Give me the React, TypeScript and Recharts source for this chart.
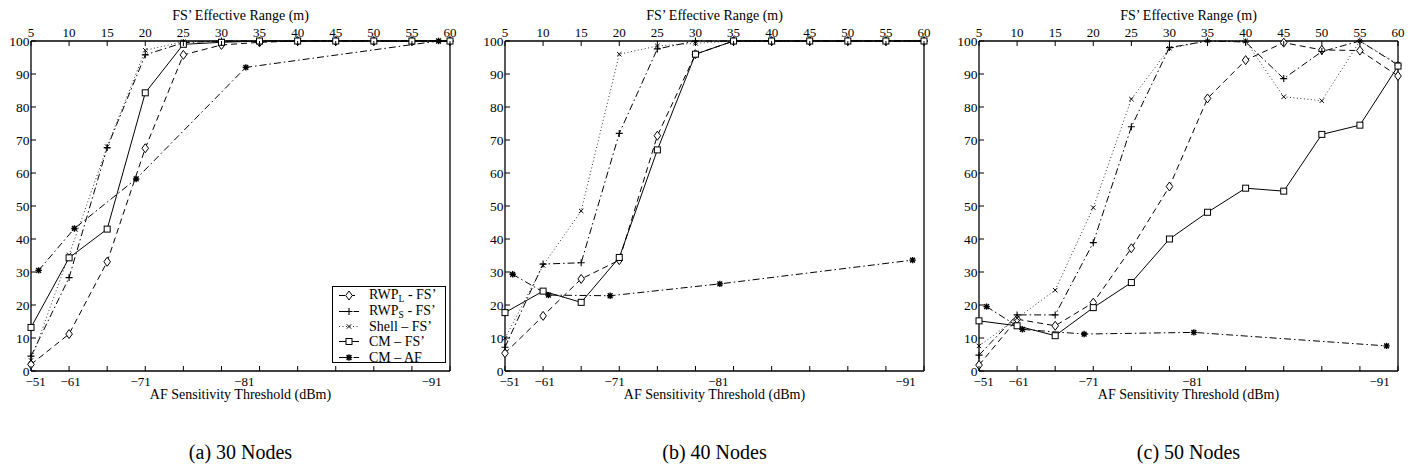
import React from 'react';
import { LineChart, Line, XAxis, YAxis, Legend } from 'recharts';

const FONT = '"Liberation Serif", "Times New Roman", Times, serif';

// ---------- axes / ticks ----------
const fsRange = [5, 10, 15, 20, 25, 30, 35, 40, 45, 50, 55, 60];
const afRange = [6.0, 10.7, 18.8, 33.2, 58.5];
const yTicks = [0, 10, 20, 30, 40, 50, 60, 70, 80, 90, 100];
const topTicks = [5, 10, 15, 20, 25, 30, 35, 40, 45, 50, 55, 60];
const bottomMarkTicks = [5, 10, 15, 20, 25, 30, 35, 40, 45, 50, 55, 60];
const bottomLabelPos = [5.6, 10.2, 19.4, 33.0, 57.6];
const bottomLabelText = ['−51', '−61', '−71', '−81', '−91'];
const captions = ['(a) 30 Nodes', '(b) 40 Nodes', '(c) 50 Nodes'];
const topTitle = 'FS’ Effective Range (m)';
const bottomTitle = 'AF Sensitivity Threshold (dBm)';

// legend names
const legendBase = ['RWP', 'RWP', 'Shell – FS’', 'CM – FS’', 'CM – AF'];
const legendSub = ['L', 'S', '', '', ''];
const legendRest = [' - FS’', ' - FS’', '', '', ''];

// ---------- 30 nodes ----------
const n30RwpL = [2.0, 11.2, 33.1, 67.5, 95.8, 98.8, 99.6, 100, 100, 100, 100, 100];
const n30RwpS = [4.5, 28.3, 67.7, 95.8, 99.5, 100, 100, 100, 100, 100, 100, 100];
const n30Shell = [3.2, 35.2, 68.0, 97.2, 99.8, 100, 100, 100, 100, 100, 100, 100];
const n30CmFs = [13.2, 34.3, 43.0, 84.3, 99.0, 99.6, 100, 100, 100, 100, 100, 100];
const n30CmAf = [30.5, 43.2, 58.2, 92.0, 100];

// ---------- 40 nodes ----------
const n40RwpL = [5.4, 16.7, 27.9, 33.6, 71.3, 96.0, 100, 100, 100, 100, 100, 100];
const n40RwpS = [7.2, 32.4, 32.8, 72.0, 97.6, 100, 100, 100, 100, 100, 100, 100];
const n40Shell = [9.9, 32.0, 48.5, 96.0, 98.5, 99.3, 100, 100, 100, 100, 100, 100];
const n40CmFs = [17.7, 24.2, 20.8, 34.4, 67.0, 96.0, 100, 100, 100, 100, 100, 100];
const n40CmAf = [29.3, 23.0, 22.8, 26.4, 33.6];

// ---------- 50 nodes ----------
const n50RwpL = [1.8, 15.7, 13.7, 20.7, 37.2, 55.9, 82.6, 94.2, 99.5, 97.3, 97.1, 89.4];
const n50RwpS = [4.8, 17.0, 17.0, 38.9, 74.0, 98.0, 100, 99.7, 88.6, 96.8, 100, 92.7];
const n50Shell = [7.6, 16.0, 24.5, 49.5, 82.4, 97.8, 100, 100, 83.1, 81.9, 100, 93.0];
const n50CmFs = [15.2, 13.7, 10.7, 19.2, 26.8, 40.0, 48.1, 55.4, 54.5, 71.7, 74.5, 92.4];
const n50CmAf = [19.5, 12.6, 11.2, 11.7, 7.6];

// ---------- styles ----------
const seriesStyle = [
  { key: 'rwpL', kind: 'diamond', dash: '6 4', color: '#000', width: 1 },
  { key: 'rwpS', kind: 'plus', dash: '7 3 1.5 3', color: '#000', width: 1 },
  { key: 'shell', kind: 'cross', dash: '1 2.5', color: '#333', width: 1 },
  { key: 'cmFs', kind: 'square', dash: undefined, color: '#000', width: 1 },
  { key: 'cmAf', kind: 'star', dash: '7 3 1.5 3', color: '#000', width: 1 },
];

function Marker({ kind, cx, cy }: { kind: string; cx: number; cy: number }) {
  const s = '#000';
  switch (kind) {
    case 'diamond':
      return (
        <path
          d={`M${cx},${cy - 4.5}L${cx + 3.3},${cy}L${cx},${cy + 4.5}L${cx - 3.3},${cy}Z`}
          fill="#fff"
          stroke={s}
          strokeWidth={1}
        />
      );
    case 'plus':
      return (
        <path
          d={`M${cx - 3.5},${cy}H${cx + 3.5}M${cx},${cy - 3.5}V${cy + 3.5}`}
          stroke={s}
          strokeWidth={1.1}
          fill="none"
        />
      );
    case 'cross':
      return (
        <path
          d={`M${cx - 2.2},${cy - 2.2}L${cx + 2.2},${cy + 2.2}M${cx - 2.2},${cy + 2.2}L${cx + 2.2},${cy - 2.2}`}
          stroke={s}
          strokeWidth={1}
          fill="none"
        />
      );
    case 'square':
      return <rect x={cx - 3} y={cy - 3} width={6} height={6} fill="#fff" stroke={s} strokeWidth={1} />;
    case 'star':
    default:
      return (
        <path
          d={`M${cx - 3.2},${cy}H${cx + 3.2}M${cx},${cy - 3.2}V${cy + 3.2}M${cx - 2.4},${cy - 2.4}L${cx + 2.4},${cy + 2.4}M${cx - 2.4},${cy + 2.4}L${cx + 2.4},${cy - 2.4}`}
          stroke={s}
          strokeWidth={1.4}
          fill="none"
        />
      );
  }
}

const makeDot = (kind: string) => (p: any) => {
  const { cx, cy, index } = p;
  if (cx == null || cy == null) return <g key={`d${index}`} />;
  return (
    <g key={`d${index}`}>
      <Marker kind={kind} cx={cx} cy={cy} />
    </g>
  );
};

const textProps = { fontFamily: FONT, fill: '#000' };

const TopTick = (p: any) => {
  const { x, y, payload } = p;
  return (
    <g>
      <line x1={x} x2={x} y1={y} y2={y + 5} stroke="#000" strokeWidth={1} />
      <text x={x} y={y - 4} textAnchor="middle" fontSize={13} {...textProps}>
        {payload.value}
      </text>
    </g>
  );
};

const BottomTick = (p: any) => {
  const { x, y, payload } = p;
  const v = payload.value;
  const mark = bottomMarkTicks.includes(v);
  const li = bottomLabelPos.indexOf(v);
  return (
    <g>
      {mark && <line x1={x} x2={x} y1={y} y2={y - 5} stroke="#000" strokeWidth={1} />}
      {li >= 0 && (
        <text x={x} y={y + 15} textAnchor="middle" fontSize={13} {...textProps}>
          {bottomLabelText[li]}
        </text>
      )}
    </g>
  );
};

const LeftTick = (p: any) => {
  const { x, y, payload } = p;
  return (
    <g>
      <line x1={x} x2={x + 5} y1={y} y2={y} stroke="#000" strokeWidth={1} />
      <text x={x - 1.5} y={y + 4.5} textAnchor="end" fontSize={13.5} {...textProps}>
        {payload.value}
      </text>
    </g>
  );
};

const RightTick = (p: any) => {
  const { x, y } = p;
  return <line x1={x} x2={x - 5} y1={y} y2={y} stroke="#000" strokeWidth={1} />;
};

const LegendBox = () => (
  <div
    style={{
      width: 112,
      height: 74,
      border: '1px solid #000',
      background: '#fff',
      fontFamily: FONT,
      fontSize: 14,
      color: '#000',
      paddingTop: 1,
      boxSizing: 'content-box',
    }}
  >
    {seriesStyle.map((st, i) => (
      <div key={st.key} style={{ display: 'flex', alignItems: 'center', height: 15.4 }}>
        <svg width={36} height={15} style={{ flex: '0 0 36px' }}>
          <line x1={6} x2={26} y1={7.5} y2={7.5} stroke={st.color} strokeWidth={1} strokeDasharray={st.dash} />
          <Marker kind={st.kind} cx={16} cy={7.5} />
        </svg>
        <span style={{ lineHeight: '15px', whiteSpace: 'nowrap' }}>
          {legendBase[i]}
          {legendSub[i] && (
            <span style={{ fontSize: 9.5, position: 'relative', top: 3 }}>{legendSub[i]}</span>
          )}
          {legendRest[i]}
        </span>
      </div>
    ))}
  </div>
);

const axisLine = { stroke: '#000', strokeWidth: 1.3 };

function Panel({
  idx,
  rwpL,
  rwpS,
  shell,
  cmFs,
  cmAf,
  legend,
}: {
  idx: number;
  rwpL: number[];
  rwpS: number[];
  shell: number[];
  cmFs: number[];
  cmAf: number[];
  legend: boolean;
}) {
  const data = fsRange.map((x, i) => ({ x, rwpL: rwpL[i], rwpS: rwpS[i], shell: shell[i], cmFs: cmFs[i] }));
  const afData = afRange.map((x, i) => ({ x, cmAf: cmAf[i] }));
  const bottomTicks = Array.from(new Set([...bottomMarkTicks, ...bottomLabelPos])).sort((a, b) => a - b);
  const mainStyles = seriesStyle.slice(0, 4);
  const afStyle = seriesStyle[4];
  return (
    <div style={{ position: 'absolute', left: idx * 474, top: 0, width: 474, height: 475 }}>
      <LineChart width={474} height={475} data={data} margin={{ top: 0, right: 0, bottom: 0, left: 0 }}>
        <XAxis
          xAxisId="top"
          orientation="top"
          type="number"
          dataKey="x"
          domain={[5, 60]}
          ticks={topTicks}
          interval={0}
          height={41}
          tickSize={0}
          tickMargin={0}
          tickLine={false}
          axisLine={axisLine}
          tick={TopTick}
          label={{ value: topTitle, position: 'insideTop', offset: 10, fontSize: 14, fontFamily: FONT, fill: '#000' }}
        />
        <XAxis
          xAxisId="bottom"
          orientation="bottom"
          type="number"
          dataKey="x"
          domain={[5, 60]}
          ticks={bottomTicks}
          interval={0}
          height={104}
          tickSize={0}
          tickMargin={0}
          tickLine={false}
          axisLine={axisLine}
          tick={BottomTick}
          label={{ value: bottomTitle, position: 'insideTop', offset: 18, fontSize: 14, fontFamily: FONT, fill: '#000' }}
        />
        <YAxis
          yAxisId="left"
          orientation="left"
          type="number"
          domain={[0, 100]}
          ticks={yTicks}
          interval={0}
          width={31}
          tickSize={0}
          tickMargin={0}
          tickLine={false}
          axisLine={axisLine}
          tick={LeftTick}
        />
        <YAxis
          yAxisId="right"
          orientation="right"
          type="number"
          domain={[0, 100]}
          ticks={yTicks}
          interval={0}
          width={24}
          tickSize={0}
          tickMargin={0}
          tickLine={false}
          axisLine={axisLine}
          tick={RightTick}
        />
        {mainStyles.map((st) => (
          <Line
            key={st.key}
            xAxisId="bottom"
            yAxisId="left"
            type="linear"
            dataKey={st.key}
            stroke={st.color}
            strokeWidth={st.width}
            strokeDasharray={st.dash}
            dot={makeDot(st.kind)}
            activeDot={false}
            isAnimationActive={false}
          />
        ))}
        <Line
          xAxisId="bottom"
          yAxisId="left"
          type="linear"
          data={afData}
          dataKey="cmAf"
          stroke={afStyle.color}
          strokeWidth={afStyle.width}
          strokeDasharray={afStyle.dash}
          dot={makeDot(afStyle.kind)}
          activeDot={false}
          isAnimationActive={false}
        />
        {legend && (
          <Legend
            layout="vertical"
            align="center"
            verticalAlign="middle"
            content={LegendBox}
            wrapperStyle={{ left: 332, top: 286, width: 'auto', height: 'auto' }}
          />
        )}
      </LineChart>
      <svg width={474} height={475} style={{ position: 'absolute', left: 0, top: 0, pointerEvents: 'none' }}>
        <text x={240.5} y={459} textAnchor="middle" fontSize={20} {...textProps}>
          {captions[idx]}
        </text>
      </svg>
    </div>
  );
}

export default function App() {
  return (
    <div
      style={{
        position: 'absolute',
        left: 0,
        top: 0,
        width: 1418,
        height: 475,
        background: '#fff',
        overflow: 'hidden',
      }}
    >
      <Panel idx={0} rwpL={n30RwpL} rwpS={n30RwpS} shell={n30Shell} cmFs={n30CmFs} cmAf={n30CmAf} legend={true} />
      <Panel idx={1} rwpL={n40RwpL} rwpS={n40RwpS} shell={n40Shell} cmFs={n40CmFs} cmAf={n40CmAf} legend={false} />
      <Panel idx={2} rwpL={n50RwpL} rwpS={n50RwpS} shell={n50Shell} cmFs={n50CmFs} cmAf={n50CmAf} legend={false} />
    </div>
  );
}
